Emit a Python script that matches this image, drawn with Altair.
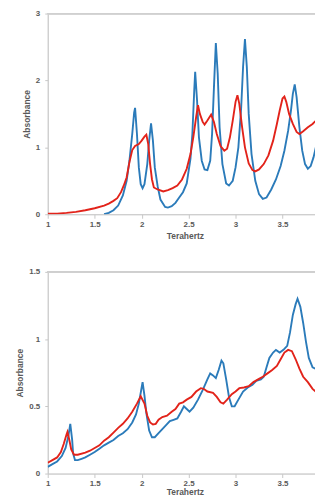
import altair as alt
import pandas as pd

# ---- Top panel data ----
top_blue_x = [1.60, 1.65, 1.70, 1.75, 1.80, 1.84, 1.87, 1.90, 1.92, 1.93, 1.95, 1.97, 1.99, 2.01, 2.03,
              2.06, 2.08, 2.10, 2.12, 2.14, 2.17, 2.20, 2.25, 2.28, 2.32, 2.36, 2.40, 2.44, 2.48, 2.52,
              2.54, 2.56, 2.57, 2.59, 2.61, 2.64, 2.67, 2.70, 2.73, 2.75, 2.77, 2.79, 2.81, 2.83, 2.86,
              2.90, 2.93, 2.97, 3.00, 3.03, 3.06, 3.08, 3.10, 3.12, 3.14, 3.17, 3.21, 3.25, 3.29, 3.33,
              3.38, 3.43, 3.48, 3.52, 3.56, 3.59, 3.61, 3.63, 3.65, 3.68, 3.71, 3.74, 3.77, 3.80, 3.83,
              3.86, 3.89, 3.92]
top_blue_y = [0.00, 0.02, 0.06, 0.13, 0.28, 0.50, 0.80, 1.20, 1.52, 1.59, 1.20, 0.70, 0.45, 0.39, 0.45,
              0.75, 1.10, 1.36, 1.10, 0.70, 0.42, 0.22, 0.11, 0.10, 0.12, 0.17, 0.25, 0.33, 0.46, 0.83,
              1.20, 1.85, 2.13, 1.70, 1.15, 0.80, 0.67, 0.66, 0.80, 1.20, 1.90, 2.56, 2.10, 1.30, 0.75,
              0.46, 0.43, 0.50, 0.70, 1.00, 1.60, 2.20, 2.62, 2.20, 1.50, 0.90, 0.50, 0.30, 0.23, 0.25,
              0.37, 0.52, 0.72, 0.95, 1.25, 1.55, 1.80, 1.94, 1.75, 1.30, 0.95, 0.75, 0.68, 0.72, 0.85,
              1.03, 1.18, 1.35]

top_red_x = [1.00, 1.10, 1.20, 1.30, 1.40, 1.50, 1.60, 1.65, 1.70, 1.74, 1.78, 1.81, 1.84, 1.87, 1.90,
             1.93, 1.97, 2.00, 2.03, 2.05, 2.07, 2.09, 2.11, 2.13, 2.17, 2.23, 2.28, 2.33, 2.38, 2.43,
             2.48, 2.52, 2.55, 2.58, 2.60, 2.62, 2.65, 2.67, 2.70, 2.74, 2.77, 2.80, 2.84, 2.88, 2.91,
             2.94, 2.97, 3.00, 3.02, 3.04, 3.07, 3.10, 3.14, 3.18, 3.21, 3.25, 3.30, 3.35, 3.40, 3.44,
             3.47, 3.50, 3.52, 3.54, 3.57, 3.61, 3.65, 3.68, 3.72, 3.77, 3.82, 3.87, 3.92]
top_red_y = [0.01, 0.01, 0.02, 0.035, 0.06, 0.09, 0.13, 0.16, 0.20, 0.24, 0.33, 0.43, 0.55, 0.78, 0.96,
             1.02, 1.05, 1.10, 1.16, 1.19, 1.05, 0.75, 0.52, 0.40, 0.37, 0.34, 0.36, 0.39, 0.43, 0.52,
             0.68, 0.90, 1.15, 1.45, 1.63, 1.50, 1.38, 1.34, 1.40, 1.49, 1.38, 1.20, 1.02, 0.95, 0.98,
             1.15, 1.40, 1.68, 1.78, 1.65, 1.30, 1.00, 0.76, 0.66, 0.64, 0.67, 0.75, 0.88, 1.10, 1.35,
             1.55, 1.73, 1.76, 1.68, 1.50, 1.35, 1.23, 1.20, 1.24, 1.30, 1.35, 1.42, 1.54]

# ---- Bottom panel data ----
bot_blue_x = [1.00, 1.05, 1.10, 1.15, 1.19, 1.22, 1.24, 1.26, 1.27, 1.29, 1.32, 1.36, 1.40, 1.45, 1.50,
              1.55, 1.60, 1.65, 1.70, 1.75, 1.80, 1.85, 1.90, 1.94, 1.97, 2.00, 2.01, 2.03, 2.05, 2.08,
              2.11, 2.14, 2.18, 2.22, 2.26, 2.30, 2.34, 2.38, 2.42, 2.45, 2.48, 2.51, 2.55, 2.60, 2.65,
              2.70, 2.73, 2.76, 2.79, 2.82, 2.85, 2.87, 2.90, 2.93, 2.96, 2.99, 3.03, 3.08, 3.13, 3.18,
              3.22, 3.27, 3.30, 3.33, 3.36, 3.40, 3.43, 3.47, 3.51, 3.55, 3.58, 3.61, 3.64, 3.66, 3.69,
              3.72, 3.75, 3.78, 3.82, 3.85, 3.88, 3.92]
bot_blue_y = [0.05, 0.07, 0.09, 0.13, 0.19, 0.28, 0.37, 0.25, 0.15, 0.10, 0.10, 0.11, 0.12, 0.14, 0.16,
              0.185, 0.21, 0.23, 0.25, 0.28, 0.30, 0.33, 0.38, 0.44, 0.52, 0.64, 0.68, 0.58, 0.45, 0.32,
              0.27, 0.27, 0.30, 0.33, 0.36, 0.39, 0.40, 0.41, 0.46, 0.50, 0.48, 0.46, 0.49, 0.55, 0.62,
              0.70, 0.745, 0.73, 0.71, 0.77, 0.84, 0.82, 0.70, 0.57, 0.50, 0.50, 0.55, 0.61, 0.64, 0.66,
              0.69, 0.70, 0.72, 0.79, 0.86, 0.90, 0.92, 0.90, 0.92, 0.95, 1.05, 1.18, 1.26, 1.30, 1.24,
              1.12, 0.98, 0.86, 0.79, 0.78, 0.81, 0.84]

bot_red_x = [1.00, 1.05, 1.10, 1.14, 1.17, 1.20, 1.21, 1.23, 1.25, 1.28, 1.32, 1.40, 1.45, 1.50, 1.55,
             1.60, 1.65, 1.70, 1.75, 1.80, 1.85, 1.90, 1.95, 1.99, 2.03, 2.06, 2.09, 2.12, 2.15, 2.18,
             2.22, 2.27, 2.32, 2.36, 2.40, 2.44, 2.48, 2.53, 2.58, 2.63, 2.66, 2.70, 2.76, 2.80, 2.84,
             2.87, 2.91, 2.96, 3.00, 3.04, 3.09, 3.14, 3.19, 3.24, 3.29, 3.34, 3.39, 3.44, 3.48, 3.52,
             3.56, 3.60, 3.64, 3.68, 3.72, 3.77, 3.82, 3.87, 3.92]
bot_red_y = [0.08, 0.10, 0.12, 0.16, 0.22, 0.29, 0.31, 0.25, 0.18, 0.14, 0.14, 0.155, 0.17, 0.19, 0.21,
             0.245, 0.27, 0.305, 0.34, 0.37, 0.41, 0.46, 0.52, 0.575, 0.52, 0.43, 0.38, 0.365, 0.37, 0.40,
             0.42, 0.43, 0.46, 0.48, 0.52, 0.53, 0.55, 0.57, 0.61, 0.635, 0.63, 0.61, 0.60, 0.57, 0.53,
             0.52, 0.55, 0.59, 0.61, 0.635, 0.64, 0.65, 0.68, 0.70, 0.72, 0.745, 0.77, 0.80, 0.85, 0.90,
             0.92, 0.91, 0.85, 0.78, 0.72, 0.68, 0.63, 0.60, 0.57]

x_ticks = [1, 1.5, 2, 2.5, 3, 3.5]
BLUE = "#2b7bba"
RED = "#e2231a"
GRAY = "#595959"
AXIS = "#c8c8c8"
FONT = "Liberation Sans"


def make_df(bx, by, rx, ry):
    return pd.concat([
        pd.DataFrame({"x": bx, "y": by, "s": "blue"}),
        pd.DataFrame({"x": rx, "y": ry, "s": "red"}),
    ])


def panel(df, ymax, yticks, height, title_pad):
    xscale = alt.Scale(domain=[1, 3.92], nice=False, zero=False)
    yscale = alt.Scale(domain=[0, ymax], nice=False)
    xaxis = alt.Axis(values=x_ticks, format="~g", title="Terahertz", grid=False,
                     domainColor=AXIS, tickColor=AXIS, tickSize=4, labelPadding=2,
                     labelColor=GRAY, labelFontSize=8, labelFontWeight="bold", labelFont=FONT,
                     titleColor=GRAY, titleFontSize=8.5, titleFontWeight="bold", titleFont=FONT,
                     titlePadding=title_pad, labelFlush=False)
    yaxis = alt.Axis(values=yticks, format="~g", title="Absorbance", grid=False,
                     domainColor=AXIS, tickColor=AXIS, tickSize=3, labelPadding=5,
                     labelColor=GRAY, labelFontSize=8, labelFontWeight="bold", labelFont=FONT,
                     titleColor=GRAY, titleFontSize=8.5, titleFontWeight="bold", titleFont=FONT,
                     titlePadding=4, labelFlush=False)
    lines = alt.Chart(df).mark_line(strokeWidth=1.9, clip=True).encode(
        x=alt.X("x:Q", scale=xscale, axis=xaxis),
        y=alt.Y("y:Q", scale=yscale, axis=yaxis),
        color=alt.Color("s:N", scale=alt.Scale(domain=["blue", "red"], range=[BLUE, RED]), legend=None),
    )
    top = alt.Chart(df).mark_rule(color="#d0d0d0", strokeWidth=1).encode(y=alt.datum(ymax))
    return alt.layer(top, lines).properties(width=276, height=height)


top_chart = panel(make_df(top_blue_x, top_blue_y, top_red_x, top_red_y), 3, [0, 0.5, 1, 1.5, 2, 2.5, 3], 202, 3)
bot_chart = panel(make_df(bot_blue_x, bot_blue_y, bot_red_x, bot_red_y), 1.5, [0, 0.5, 1, 1.5], 203, 0)

chart = alt.vconcat(top_chart, bot_chart, spacing=58, bounds="flush").properties(
    padding={"left": 7, "top": -1, "right": -8, "bottom": -1}
).configure_view(stroke=None).configure(background="white")

chart.save("out.html", embed_options={"renderer": "svg", "actions": False})
